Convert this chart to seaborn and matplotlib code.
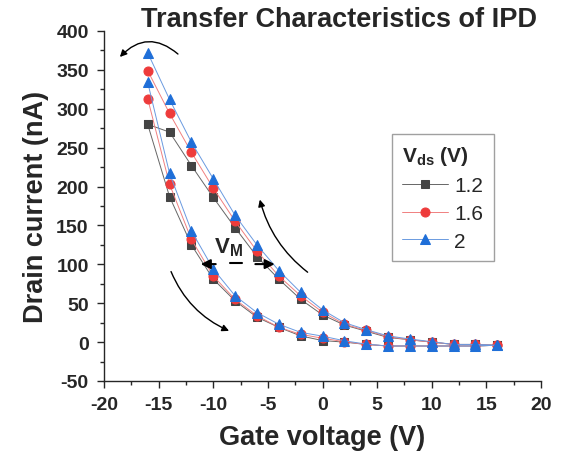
import numpy as np
import pandas as pd
import matplotlib
matplotlib.use("Agg")
import matplotlib.pyplot as plt
import seaborn as sns
from matplotlib.ticker import MultipleLocator

# ---- data ----
gate_forward = [-16, -14, -12, -10, -8, -6, -4, -2, 0, 2, 4, 6, 8, 10, 12, 14, 16]
gate_reverse = [16, 14, 12, 10, 8, 6, 4, 2, 0, -2, -4, -6, -8, -10, -12, -14, -16]
vds_labels = ["1.2", "1.6", "2"]

id_fwd_12 = [280, 187, 125, 81, 53, 32, 19, 8, 2, 0, -3, -5, -5, -5, -5, -5, -4]
id_fwd_16 = [313, 203, 132, 85, 55, 34, 19, 10, 5, 0.5, -3, -5, -5, -5, -5, -5, -4]
id_fwd_20 = [334, 217, 143, 94, 59.5, 38, 23, 12.5, 7.7, 1.7, -2.6, -5, -5, -5, -5, -5, -4]

id_rev_12 = [-4, -3, -3, 0, 3, 6, 14, 22, 35, 55, 81, 110, 147, 186, 227, 270, 280]
id_rev_16 = [-4, -3, -3, 0, 3, 7, 15, 23, 38.5, 59.5, 85, 117, 155.5, 198, 244, 294, 349]
id_rev_20 = [-4, -3, -3, 0.5, 4, 8, 16, 25, 41.5, 64, 92, 125, 163, 210, 257, 312, 372]

fwd = [id_fwd_12, id_fwd_16, id_fwd_20]
rev = [id_rev_12, id_rev_16, id_rev_20]

# ---- style ----
sns.set_style("ticks")
plt.rcParams["font.family"] = ["Liberation Sans", "DejaVu Sans"]
plt.rcParams["mathtext.fontset"] = "custom"
plt.rcParams["mathtext.rm"] = "Liberation Sans"
plt.rcParams["mathtext.bf"] = "Liberation Sans:bold"
plt.rcParams["mathtext.it"] = "Liberation Sans:italic"
plt.rcParams["axes.unicode_minus"] = False

fig = plt.figure(figsize=(5.64, 4.52), dpi=100)
ax = fig.add_axes([104/564, 1-382/452, 437/564, 350/452])

colors = ["#444444", "#ee3b3b", "#1f6fd8"]
line_colors = ["#666666", "#f08080", "#6a9ae0"]
markers = ["s", "o", "^"]
msizes = [5.5, 6.5, 7.5]

for lab, f, r, c, lc, m, ms in zip(vds_labels, fwd, rev, colors, line_colors, markers, msizes):
    df = pd.DataFrame({"Vg": gate_forward + gate_reverse, "Id": f + r})
    sns.lineplot(data=df, x="Vg", y="Id", sort=False, estimator=None, ax=ax,
                 color=lc, lw=0.7, marker=m, markersize=ms,
                 markerfacecolor=c, markeredgecolor=c, label=lab)

ax.set_xlim(-20, 20)
ax.set_ylim(-50, 400)
ax.xaxis.set_major_locator(MultipleLocator(5))
ax.xaxis.set_minor_locator(MultipleLocator(2.5))
ax.yaxis.set_major_locator(MultipleLocator(50))
ax.yaxis.set_minor_locator(MultipleLocator(25))
ax.tick_params(which="major", length=5, width=1, direction="out", labelsize=14)
ax.tick_params(axis="x", which="major", pad=6)
ax.tick_params(axis="y", which="major", pad=6)
ax.tick_params(which="minor", length=3, width=1, direction="out")
for lbl in ax.get_xticklabels() + ax.get_yticklabels():
    lbl.set_fontweight("bold")
for s in ["top", "right"]:
    ax.spines[s].set_visible(False)
for s in ["left", "bottom"]:
    ax.spines[s].set_linewidth(1.0)

ax.set_xlabel("Gate voltage (V)", fontsize=19.5, fontweight="bold", labelpad=8)
ax.set_ylabel("Drain current (nA)", fontsize=19.5, fontweight="bold", labelpad=5)
ax.text(0.538, 1.035, "Transfer Characteristics of IPD", transform=ax.transAxes,
        ha="center", va="center", fontsize=19.5, fontweight="bold")

leg = ax.legend(loc="upper left", bbox_to_anchor=(0.659, 0.706), borderaxespad=0,
                title=r"$\mathbf{V_{ds}}$ $\mathbf{(V)}$", fontsize=15, title_fontsize=15,
                fancybox=False, frameon=True, edgecolor="#888888", handlelength=2.2,
                handletextpad=0.3, labelspacing=0.42, borderpad=0.5)
leg._legend_box.align = "left"
leg.get_frame().set_linewidth(1.0)

# annotations
arrow_kw = dict(arrowstyle="-|>", color="black", lw=1.0, mutation_scale=10)
ax.annotate("", xy=(0.032, 0.92), xytext=(0.174, 0.929), xycoords="axes fraction",
            arrowprops=dict(connectionstyle="arc3,rad=0.5", **arrow_kw))
ax.annotate("", xy=(0.355, 0.526), xytext=(0.471, 0.306), xycoords="axes fraction",
            arrowprops=dict(connectionstyle="arc3,rad=-0.18", **arrow_kw))
ax.annotate("", xy=(0.292, 0.14), xytext=(0.151, 0.32), xycoords="axes fraction",
            arrowprops=dict(connectionstyle="arc3,rad=0.21", **arrow_kw))
mw_kw = dict(arrowstyle="-|>", color="black", lw=1.5, mutation_scale=14)
ax.annotate("", xy=(0.215, 0.334), xytext=(0.262, 0.334), xycoords="axes fraction",
            arrowprops=mw_kw)
ax.annotate("", xy=(0.397, 0.334), xytext=(0.34, 0.334), xycoords="axes fraction",
            arrowprops=mw_kw)
ax.plot([0.288, 0.316], [0.337, 0.337], transform=ax.transAxes, color="black", lw=1.5)
ax.text(0.285, 0.385, r"$\mathbf{V_M}$", transform=ax.transAxes, ha="center", va="center",
        fontsize=16)

fig.savefig("out.png", dpi=100)
